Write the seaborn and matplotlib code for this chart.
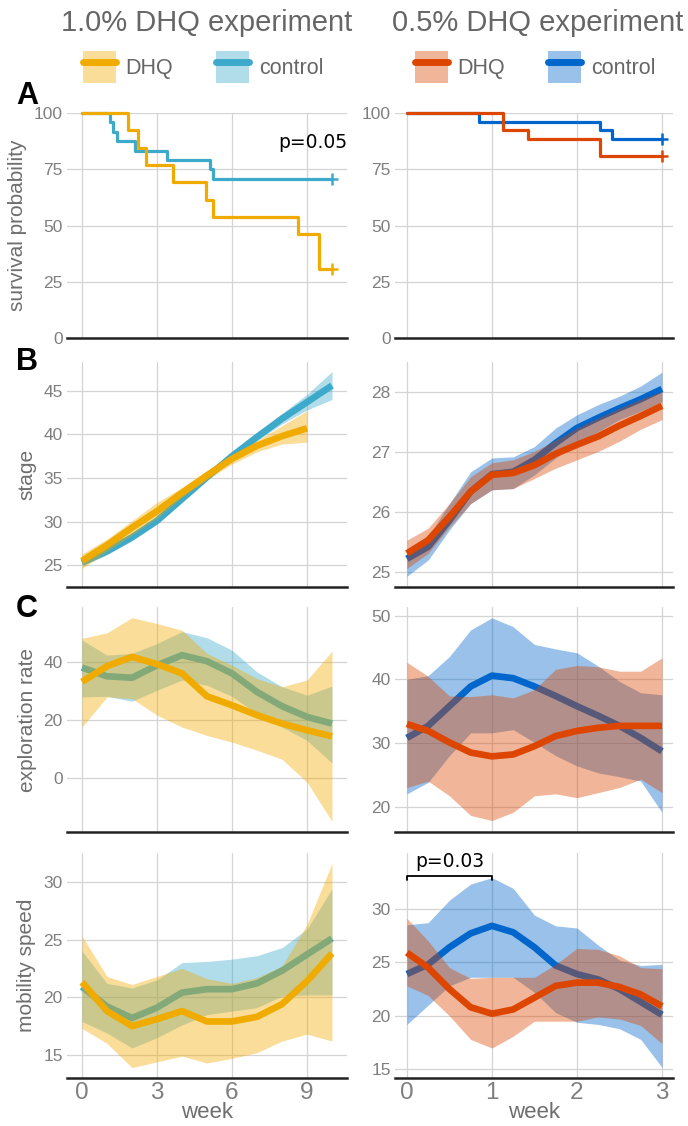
import numpy as np
import pandas as pd
import seaborn as sns
import matplotlib.pyplot as plt
from matplotlib.patches import Patch
from matplotlib.lines import Line2D

# ---- colours
DHQ1, CTL1 = "#F0AB00", "#3DA9CB"
DHQ2, CTL2 = "#DC4600", "#0066CC"

# ---- A: survival (weeks, percent)
surv1_dhq_t = [0, 1.85, 2.25, 2.55, 3.65, 4.95, 5.23, 8.63, 9.49, 10]
surv1_dhq_s = [100, 92.3, 84.6, 76.9, 69.2, 61.5, 53.8, 46.2, 30.8, 30.8]
surv1_ctl_t = [0, 1.12, 1.25, 1.41, 2.12, 3.39, 5.12, 5.25, 10]
surv1_ctl_s = [100, 95.8, 91.7, 87.5, 83.3, 79.2, 75.0, 70.8, 70.8]
surv2_dhq_t = [0, 1.13, 1.42, 2.27, 3]
surv2_dhq_s = [100, 92.3, 88.5, 80.8, 80.8]
surv2_ctl_t = [0, 0.85, 2.27, 2.41, 3]
surv2_ctl_s = [100, 96.2, 92.3, 88.5, 88.5]

weeks_dhq1 = list(range(10))
weeks_ctl1 = list(range(11))
weeks1 = list(range(11))
weeks2 = [0, 0.25, 0.5, 0.75, 1, 1.25, 1.5, 1.75, 2, 2.25, 2.5, 2.75, 3]

# ---- B: stage
stage1_dhq = [25.5, 27.3, 29.3, 31.2, 33.3, 35.3, 37.2, 38.7, 39.8, 40.7]
stage1_dhq_hi = [26.3, 28.0, 30.1, 32.2, 33.9, 35.8, 37.7, 39.3, 41.0, 42.7]
stage1_dhq_lo = [24.6, 26.6, 28.5, 30.4, 32.8, 34.8, 36.6, 38.0, 38.9, 39.1]
stage1_ctl = [25.3, 26.6, 28.2, 30.1, 32.6, 35.1, 37.5, 39.7, 41.8, 43.7, 45.6]
stage1_ctl_hi = [25.7, 27.0, 28.6, 30.5, 33.0, 35.5, 37.9, 40.1, 42.4, 44.6, 47.2]
stage1_ctl_lo = [24.9, 26.2, 27.8, 29.7, 32.2, 34.7, 37.1, 39.3, 41.2, 42.8, 44.0]

stage2_dhq = [25.31, 25.53, 25.92, 26.34, 26.62, 26.65, 26.78, 26.97, 27.12, 27.26, 27.44, 27.60, 27.77]
stage2_dhq_hi = [25.53, 25.73, 26.14, 26.59, 26.82, 26.87, 27.01, 27.20, 27.40, 27.57, 27.73, 27.88, 28.01]
stage2_dhq_lo = [25.06, 25.31, 25.75, 26.14, 26.37, 26.39, 26.56, 26.73, 26.87, 27.01, 27.18, 27.38, 27.54]
stage2_ctl = [25.22, 25.42, 25.86, 26.34, 26.63, 26.67, 26.87, 27.15, 27.40, 27.57, 27.73, 27.88, 28.05]
stage2_ctl_hi = [25.36, 25.59, 26.14, 26.67, 26.90, 26.92, 27.09, 27.40, 27.62, 27.79, 27.93, 28.10, 28.33]
stage2_ctl_lo = [24.93, 25.20, 25.70, 26.14, 26.37, 26.39, 26.62, 26.90, 27.15, 27.34, 27.54, 27.68, 27.84]

# ---- C: exploration rate
expl1_dhq = [33.2, 38.6, 41.8, 39.3, 36.1, 28.2, 25.1, 21.7, 18.8, 16.5, 14.4]
expl1_dhq_hi = [48.2, 50.1, 55.3, 53.3, 51.0, 43.0, 38.9, 34.3, 31.5, 33.8, 43.8]
expl1_dhq_lo = [17.6, 28.0, 27.4, 21.7, 17.6, 14.7, 12.4, 9.6, 6.5, -1.4, -14.9]
expl1_ctl = [38.1, 35.1, 34.6, 38.9, 42.4, 40.3, 36.1, 29.7, 24.8, 21.1, 18.8]
expl1_ctl_hi = [47.6, 42.4, 43.0, 46.4, 50.5, 48.4, 44.1, 36.6, 31.5, 28.6, 31.7]
expl1_ctl_lo = [28.0, 28.2, 26.5, 30.3, 33.8, 32.0, 28.2, 22.2, 17.6, 13.0, 5.2]

expl2_dhq = [33.0, 31.9, 30.1, 28.5, 27.9, 28.2, 29.5, 31.1, 31.9, 32.4, 32.7, 32.7, 32.7]
expl2_dhq_hi = [42.7, 40.5, 37.4, 37.3, 37.6, 37.1, 38.4, 41.6, 42.2, 42.0, 41.3, 41.3, 43.4]
expl2_dhq_lo = [23.0, 24.0, 21.7, 18.6, 17.8, 19.1, 21.7, 22.0, 21.4, 22.2, 23.0, 24.3, 22.2]
expl2_ctl = [30.8, 32.7, 35.8, 38.9, 40.6, 40.2, 38.9, 37.4, 35.8, 34.3, 32.7, 30.8, 28.7]
expl2_ctl_hi = [40.0, 40.6, 43.6, 47.8, 49.7, 48.3, 45.5, 44.8, 44.2, 42.1, 39.7, 37.9, 37.6]
expl2_ctl_lo = [22.0, 23.8, 28.0, 31.6, 31.6, 32.1, 30.1, 28.0, 26.4, 25.3, 24.7, 24.0, 19.1]

# ---- D: mobility speed
mob1_dhq = [21.3, 18.8, 17.5, 18.1, 18.8, 17.9, 17.9, 18.3, 19.4, 21.4, 23.8]
mob1_dhq_hi = [25.3, 21.8, 21.1, 21.8, 22.5, 21.6, 21.2, 21.7, 22.7, 26.3, 31.6]
mob1_dhq_lo = [17.3, 16.0, 13.9, 14.4, 14.9, 14.3, 14.7, 15.2, 16.2, 16.8, 16.2]
mob1_ctl = [20.9, 19.2, 18.2, 19.1, 20.4, 20.7, 20.7, 21.2, 22.3, 23.7, 25.1]
mob1_ctl_hi = [24.0, 21.2, 20.8, 21.5, 23.0, 23.1, 23.3, 23.6, 24.3, 25.9, 29.4]
mob1_ctl_lo = [17.9, 16.9, 15.6, 16.5, 17.6, 18.5, 18.8, 19.1, 20.1, 20.2, 20.2]

mob2_dhq = [25.9, 24.5, 22.5, 20.8, 20.2, 20.6, 21.7, 22.8, 23.1, 23.1, 22.7, 22.0, 20.9]
mob2_dhq_hi = [29.1, 27.0, 24.5, 23.5, 23.6, 23.6, 23.6, 24.8, 26.3, 26.2, 25.6, 24.5, 24.4]
mob2_dhq_lo = [22.8, 21.9, 20.0, 17.8, 17.0, 18.1, 19.5, 19.5, 19.5, 19.9, 19.7, 19.1, 17.4]
mob2_ctl = [23.9, 24.8, 26.4, 27.7, 28.4, 27.8, 26.4, 24.7, 23.9, 23.4, 22.5, 21.3, 20.1]
mob2_ctl_hi = [28.5, 28.7, 30.8, 32.3, 32.9, 31.9, 29.4, 28.4, 28.2, 26.6, 25.2, 24.7, 24.8]
mob2_ctl_lo = [19.2, 21.0, 22.8, 23.6, 23.6, 23.6, 22.2, 20.3, 19.4, 19.2, 18.8, 17.8, 15.2]

sns.set_theme(style="whitegrid", rc={
    "grid.color": "#d4d4d4", "grid.linewidth": 0.9,
    "axes.edgecolor": "#333333",
    "xtick.color": "#7f7f7f", "ytick.color": "#7f7f7f",
    "axes.labelcolor": "#6e6e6e",
})
plt.rcParams["font.family"] = ["Liberation Sans", "DejaVu Sans"]

fig = plt.figure(figsize=(6.88, 11.26), dpi=100)


def make_ax(x, w, top, bot):
    return fig.add_axes([x / 688, 1 - bot / 1126, w / 688, (bot - top) / 1126])


rows = [(113, 338), (362, 587), (607, 832), (853, 1078)]
cols = [(67, 280), (395, 278)]
axes = [[make_ax(cx, cw, t, b) for (cx, cw) in cols] for (t, b) in rows]


def band(ax, x, y, lo, hi, color, z):
    ax.fill_between(x, lo, hi, color=color, alpha=0.4, lw=0, zorder=z)
    df = pd.DataFrame({"week": x, "val": y})
    sns.lineplot(data=df, x="week", y="val", ax=ax, color=color, lw=4.8,
                 zorder=z + 1, solid_capstyle="butt")


def survival(ax, t, s, color, z):
    df = pd.DataFrame({"week": t, "surv": s})
    sns.lineplot(data=df, x="week", y="surv", ax=ax, color=color, lw=2.3,
                 drawstyle="steps-post", zorder=z, clip_on=False)
    ax.plot(t[-1], s[-1], marker="+", ms=8, mew=1.8, color=color, zorder=z, clip_on=False)


# row A
survival(axes[0][0], surv1_ctl_t, surv1_ctl_s, CTL1, 3)
survival(axes[0][0], surv1_dhq_t, surv1_dhq_s, DHQ1, 4)
survival(axes[0][1], surv2_ctl_t, surv2_ctl_s, CTL2, 3)
survival(axes[0][1], surv2_dhq_t, surv2_dhq_s, DHQ2, 4)
axes[0][0].text(1.0, 0.87, "p=0.05", transform=axes[0][0].transAxes, ha="right",
                va="center", fontsize=13.5, color="black", family="DejaVu Sans")

# row B
band(axes[1][0], weeks_ctl1, stage1_ctl, stage1_ctl_lo, stage1_ctl_hi, CTL1, 1)
band(axes[1][0], weeks_dhq1, stage1_dhq, stage1_dhq_lo, stage1_dhq_hi, DHQ1, 3)
band(axes[1][1], weeks2, stage2_ctl, stage2_ctl_lo, stage2_ctl_hi, CTL2, 1)
band(axes[1][1], weeks2, stage2_dhq, stage2_dhq_lo, stage2_dhq_hi, DHQ2, 3)

# row C
band(axes[2][0], weeks1, expl1_ctl, expl1_ctl_lo, expl1_ctl_hi, CTL1, 1)
band(axes[2][0], weeks1, expl1_dhq, expl1_dhq_lo, expl1_dhq_hi, DHQ1, 3)
band(axes[2][1], weeks2, expl2_ctl, expl2_ctl_lo, expl2_ctl_hi, CTL2, 1)
band(axes[2][1], weeks2, expl2_dhq, expl2_dhq_lo, expl2_dhq_hi, DHQ2, 3)

# row D
band(axes[3][0], weeks1, mob1_ctl, mob1_ctl_lo, mob1_ctl_hi, CTL1, 1)
band(axes[3][0], weeks1, mob1_dhq, mob1_dhq_lo, mob1_dhq_hi, DHQ1, 3)
band(axes[3][1], weeks2, mob2_ctl, mob2_ctl_lo, mob2_ctl_hi, CTL2, 1)
band(axes[3][1], weeks2, mob2_dhq, mob2_dhq_lo, mob2_dhq_hi, DHQ2, 3)

# significance bracket
axd = axes[3][1]
axd.plot([0, 0, 1, 1], [32.7, 33.1, 33.1, 32.7], color="black", lw=1.3, clip_on=False, zorder=6)
axd.text(0.5, 33.5, "p=0.03", ha="center", va="bottom", fontsize=13.5, color="black",
         family="DejaVu Sans")

ylims = [[(0, 100), (0, 100)], [(22.5, 48.3), (24.75, 28.5)],
         [(-18.6, 59), (16, 51.4)], [(13, 32.5), (14.2, 35.2)]]
yticks = [[[0, 25, 50, 75, 100], [0, 25, 50, 75, 100]],
          [[25, 30, 35, 40, 45], [25, 26, 27, 28]],
          [[0, 20, 40], [20, 30, 40, 50]],
          [[15, 20, 25, 30], [15, 20, 25, 30]]]
ylabels = ["survival probability", "stage", "exploration rate", "mobility speed"]

for r in range(4):
    for c in range(2):
        ax = axes[r][c]
        ax.set_ylim(*ylims[r][c])
        ax.set_yticks(yticks[r][c])
        if c == 0:
            ax.set_xlim(-0.6, 10.6)
            ax.set_xticks([0, 3, 6, 9])
            ax.set_ylabel(ylabels[r], fontsize=15, labelpad=5)
        else:
            ax.set_xlim(-0.14, 3.13)
            ax.set_xticks([0, 1, 2, 3])
            ax.set_ylabel("")
        for s in ["left", "top", "right"]:
            ax.spines[s].set_visible(False)
        ax.spines["bottom"].set_linewidth(1.8)
        ax.spines["bottom"].set_color("#222222")
        ax.tick_params(axis="y", labelsize=12.5, pad=3, length=0)
        ax.tick_params(axis="x", labelsize=17.5, pad=3, length=0)
        if r < 3:
            ax.set_xticklabels([])
            ax.set_xlabel("")
        else:
            ax.set_xlabel("week", fontsize=16, labelpad=-1.5)

for letter, ypix in zip("ABC", [96, 362, 609]):
    fig.text(16 / 688, 1 - ypix / 1126, letter, fontsize=22, fontweight="bold",
             color="black", va="center", ha="left")

fig.text(207 / 688, 1 - 23 / 1126, "1.0% DHQ experiment", fontsize=21, color="#666666",
         ha="center", va="center")
fig.text(538 / 688, 1 - 23 / 1126, "0.5% DHQ experiment", fontsize=21, color="#666666",
         ha="center", va="center")


def handles(dc, cc):
    return [(Patch(facecolor=dc, alpha=0.4, lw=0), Line2D([], [], color=dc, lw=5)),
            (Patch(facecolor=cc, alpha=0.4, lw=0), Line2D([], [], color=cc, lw=5))]


for dc, cc, xc in [(DHQ1, CTL1, 203), (DHQ2, CTL2, 535)]:
    fig.legend(handles(dc, cc), ["DHQ", "control"], ncol=2, frameon=False,
               loc="center", bbox_to_anchor=(xc / 688, 1 - 67 / 1126),
               fontsize=15.5, handlelength=1.53, handleheight=1.98,
               columnspacing=2.0, handletextpad=0.45, labelcolor="#666666",
               borderpad=0)

fig.savefig("out.png", dpi=100)
